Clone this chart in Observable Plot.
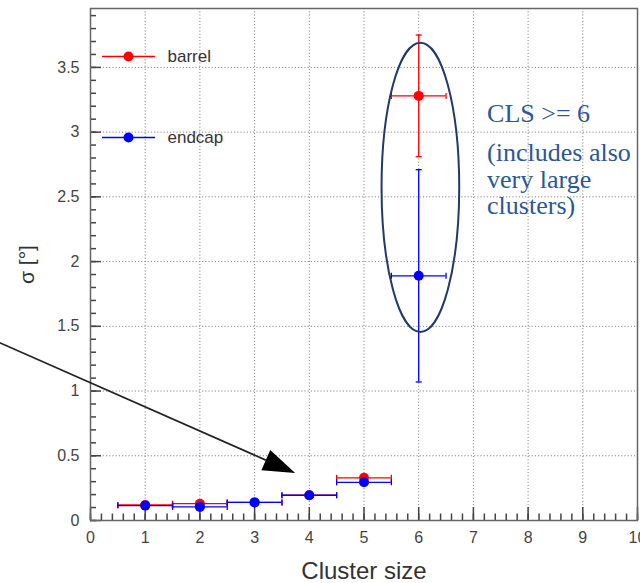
<!DOCTYPE html>
<html>
<head>
<meta charset="utf-8">
<script src="https://cdn.jsdelivr.net/npm/d3@7"></script>
<script src="https://cdn.jsdelivr.net/npm/@observablehq/plot@0.6"></script>
<style>
  html, body { margin: 0; padding: 0; background: #fff; }
  #chart svg { display: block; }
</style>
</head>
<body>
<div id="chart"></div>
<script>
// Cluster-size bins and the angular resolution sigma per detector region
const clusterSize = [1, 2, 3, 4, 5, 6];
const barrelSigma = [0.12, 0.13, 0.14, 0.195, 0.33, 3.28];
const barrelSigmaErr = [0, 0, 0, 0, 0, 0.47];
const endcapSigma = [0.115, 0.105, 0.14, 0.195, 0.295, 1.89];
const endcapSigmaErr = [0, 0, 0, 0, 0, 0.82];
const binHalfWidth = 0.5;

// Axis ticks
const xTicks = [0, 1, 2, 3, 4, 5, 6, 7, 8, 9, 10];
const yTicks = [0, 0.5, 1, 1.5, 2, 2.5, 3, 3.5];
const xMinorTicks = d3.range(0, 51).map(i => i / 5);
const yMinorTicks = d3.range(0, 40).map(i => i / 10);

// Annotation: ellipse around the last bin, its note and the pointer arrow
const ellipseCenter = {x: 6.04, y: 2.57};
const ellipseRadius = {x: 0.71, y: 1.117};
const noteTitle = "CLS >= 6";
const noteLines = ["(includes also", "very large", "clusters)"];
const arrowFrom = {x: -1.8, y: 1.397};
const arrowTo = {x: 3.75, y: 0.363};

const series = [
  {name: "barrel", color: "#ff0000", sigma: barrelSigma, err: barrelSigmaErr},
  {name: "endcap", color: "#0000ff", sigma: endcapSigma, err: endcapSigmaErr}
];

const rowsOf = s => clusterSize.map((x, i) => ({
  x, y: s.sigma[i], e: s.err[i], x1: x - binHalfWidth, x2: x + binHalfWidth
}));

// Line-segment symbols; their extent is set by the dot radius r
const symLen = size => Math.sqrt(size / Math.PI);
const vBar = {draw(ctx, size) { const h = symLen(size); ctx.moveTo(0, -h); ctx.lineTo(0, h); }};
const hBar = {draw(ctx, size) { const h = symLen(size); ctx.moveTo(-h, 0); ctx.lineTo(h, 0); }};

function seriesMarks(s) {
  const rows = rowsOf(s);
  const withErr = rows.filter(d => d.e > 0);
  const ends = rows.flatMap(d => [{x: d.x1, y: d.y}, {x: d.x2, y: d.y}]);
  const vEnds = withErr.flatMap(d => [{x: d.x, y: d.y - d.e}, {x: d.x, y: d.y + d.e}]);
  return [
    Plot.ruleY(rows, {y: "y", x1: "x1", x2: "x2", stroke: s.color, strokeWidth: 1.3}),
    Plot.ruleX(withErr, {x: "x", y1: d => d.y - d.e, y2: d => d.y + d.e, stroke: s.color, strokeWidth: 1.3}),
    Plot.dot(ends, {x: "x", y: "y", symbol: vBar, r: 3, fill: "none", stroke: s.color, strokeWidth: 1.3}),
    Plot.dot(vEnds, {x: "x", y: "y", symbol: hBar, r: 3, fill: "none", stroke: s.color, strokeWidth: 1.3}),
    Plot.dot(rows, {x: "x", y: "y", r: 5, fill: s.color, stroke: "none"})
  ];
}

function legendMarks(s, i) {
  const dy = 48 + i * 81;
  const one = [s.name];
  return [
    Plot.dot(one, {frameAnchor: "top-left", dx: 38, dy, symbol: hBar, r: 26.5, fill: "none", stroke: s.color, strokeWidth: 1.3}),
    Plot.dot(one, {frameAnchor: "top-left", dx: 38, dy, r: 5, fill: s.color, stroke: "none"}),
    Plot.text(one, {frameAnchor: "top-left", dx: 77, dy, text: d => d, textAnchor: "start", lineAnchor: "middle",
      fontSize: 17, fill: "#333", fontFamily: "Liberation Sans, Arial, sans-serif"})
  ];
}

// Ellipse drawn through the plot scales
function ellipseMark(index, {x, y}) {
  const cx = x(ellipseCenter.x), cy = y(ellipseCenter.y);
  const rx = Math.abs(x(ellipseCenter.x + ellipseRadius.x) - cx);
  const ry = Math.abs(y(ellipseCenter.y + ellipseRadius.y) - cy);
  const e = d3.create("svg:ellipse")
    .attr("cx", cx).attr("cy", cy).attr("rx", rx).attr("ry", ry)
    .attr("fill", "none").attr("stroke", "#22396a").attr("stroke-width", 2);
  return e.node();
}

// Black pointer arrow with a filled head
function arrowMark(index, {x, y}) {
  const x1 = x(arrowFrom.x), y1 = y(arrowFrom.y);
  const x2 = x(arrowTo.x), y2 = y(arrowTo.y);
  const len = Math.hypot(x2 - x1, y2 - y1);
  const ux = (x2 - x1) / len, uy = (y2 - y1) / len;
  const headLength = 32, headHalfWidth = 11;
  const bx = x2 - ux * headLength, by = y2 - uy * headLength;
  const g = d3.create("svg:g");
  g.append("line").attr("x1", x1).attr("y1", y1).attr("x2", bx).attr("y2", by)
    .attr("stroke", "#222").attr("stroke-width", 1.8);
  g.append("path")
    .attr("d", `M${x2},${y2}L${bx - uy * headHalfWidth},${by + ux * headHalfWidth}L${bx + uy * headHalfWidth},${by - ux * headHalfWidth}Z`)
    .attr("fill", "#000");
  return g.node();
}

const fmt = d => `${d}`;
const gridStyle = {stroke: "#8a8a8a", strokeOpacity: 1, strokeWidth: 1, strokeDasharray: "1.2,2"};
const tickStyle = {stroke: "#444", strokeWidth: 1.5, strokeOpacity: 1};

const chart = Plot.plot({
  width: 640,
  height: 583,
  marginLeft: 90,
  marginRight: 3,
  marginTop: 8,
  marginBottom: 63,
  style: {fontFamily: "Liberation Sans, Arial, sans-serif", background: "#fff", overflow: "visible"},
  x: {domain: [0, 10]},
  y: {domain: [0, 3.955]},
  marks: [
    Plot.gridX(xTicks, gridStyle),
    Plot.gridY(yTicks, gridStyle),

    // inward ticks along the bottom and left edges
    Plot.ruleX(xMinorTicks, {x: d => d, y1: 0, y2: 0.05, ...tickStyle}),
    Plot.ruleX(xTicks, {x: d => d, y1: 0, y2: 0.1, ...tickStyle}),
    Plot.ruleY(yMinorTicks, {y: d => d, x1: 0, x2: 0.11, ...tickStyle}),
    Plot.ruleY(yTicks, {y: d => d, x1: 0, x2: 0.2, ...tickStyle}),

    // tick labels
    Plot.axisX(xTicks, {tickSize: 0, tickPadding: 11, tickFormat: fmt, label: null, fontSize: 16, fill: "#444"}),
    Plot.axisY(yTicks, {tickSize: 0, tickPadding: 11, tickFormat: fmt, label: null, fontSize: 16, fill: "#444"}),

    Plot.frame({stroke: "#666", strokeWidth: 1.5}),

    ...series.flatMap(seriesMarks),

    ellipseMark,
    Plot.text([noteTitle], {x: 7.25, y: 3.08, text: d => d, textAnchor: "start", lineAnchor: "bottom",
      fontFamily: "Liberation Serif, Times New Roman, serif", fontSize: 26, fill: "#2b5795"}),
    Plot.text([noteLines.join("\n")], {x: 7.25, y: 2.92, text: d => d, textAnchor: "start", lineAnchor: "top",
      lineHeight: 1.02, fontFamily: "Liberation Serif, Times New Roman, serif", fontSize: 26, fill: "#2b5795"}),

    arrowMark,

    ...series.flatMap(legendMarks),

    // axis titles
    Plot.text(["Cluster size"], {frameAnchor: "bottom", dy: 58, lineAnchor: "bottom", text: d => d,
      fontSize: 24, fill: "#333"}),
    Plot.text(["σ [°]"], {frameAnchor: "left", dx: -63, rotate: -90, textAnchor: "middle", lineAnchor: "middle",
      text: d => d, fontSize: 21, fill: "#333"})
  ]
});

document.getElementById("chart").appendChild(chart);
</script>
</body>
</html>
